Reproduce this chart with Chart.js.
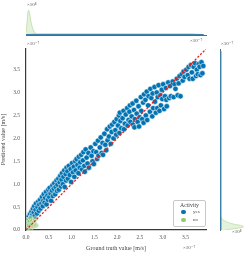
<!DOCTYPE html>
<html>
<head>
<meta charset="utf-8">
<script src="https://cdn.jsdelivr.net/npm/chart.js@4.4.1/dist/chart.umd.min.js"></script>
<style>
  body { margin: 0; width: 249px; height: 254px; background: #fff; position: relative; overflow: hidden; }
  canvas { position: absolute; left: 0; top: 0; }
  .exp { position: absolute; font: 5px 'Liberation Serif', 'DejaVu Serif', serif; color: #555; white-space: nowrap; }
  #legend { position: absolute; left: 173px; top: 200px; width: 33px; height: 27px; box-sizing: border-box;
            border: 0.8px solid #c8c8c8; border-radius: 2px; background: rgba(255,255,255,0.85);
            font-family: 'Liberation Serif', 'DejaVu Serif', serif; color: #444; }
  #legend .ttl { text-align: center; font-size: 5.8px; margin-top: 1px; }
  #legend .row { position: relative; height: 8px; font-size: 5px; }
  #legend .dot { position: absolute; left: 7px; top: 1.5px; width: 4.6px; height: 4.6px; border-radius: 50%; }
  #legend .lbl { position: absolute; left: 19px; top: 0.5px; }
</style>
</head>
<body>
<canvas id="topChart" width="249" height="254"></canvas>
<canvas id="rightChart" width="249" height="254"></canvas>
<canvas id="mainChart" width="249" height="254"></canvas>
<div class="exp" style="left:27px;top:2px;">×10⁸</div>
<div class="exp" style="left:190px;top:37px;">×10⁻⁷</div>
<div class="exp" style="left:27px;top:40px;">×10⁻⁷</div>
<div class="exp" style="left:221px;top:40px;">×10⁻⁷</div>
<div class="exp" style="left:183px;top:244px;">×10⁻⁷</div>
<div class="exp" style="left:232px;top:229px;">×10⁸</div>
<div id="legend"></div>
<script>
// values in units of 1e-7
var activity = ['yes', 'no'];
var axisTicks = [0.0, 0.5, 1.0, 1.5, 2.0, 2.5, 3.0, 3.5];
var axisMax = 3.95;
var diagLimits = [0, 3.95];

var yesX = [0.02,0.04,0.05,0.06,0.08,0.09,0.03,
  0.11,0.12,0.14,0.15,0.17,0.18,0.19,
  0.21,0.22,0.24,0.25,0.27,0.28,0.29,
  0.31,0.32,0.34,0.35,0.37,0.38,0.39,
  0.41,0.42,0.44,0.45,0.47,0.48,0.49,
  0.51,0.52,0.54,0.55,0.57,0.58,0.59,
  0.61,0.62,0.64,0.65,0.67,0.68,0.69,
  0.71,0.72,0.74,0.75,0.77,0.78,0.79,
  0.81,0.82,0.84,0.85,0.87,0.88,0.89,
  0.91,0.92,0.94,0.96,0.98,0.99,
  1.01,1.03,1.05,1.06,1.08,1.09,
  1.11,1.13,1.15,1.16,1.18,1.19,
  1.21,1.23,1.25,1.26,1.28,1.29,
  1.31,1.33,1.35,1.37,1.38,
  1.42,1.44,1.46,1.48,1.49,
  1.52,1.54,1.56,1.58,1.59,
  1.62,1.64,1.66,1.68,1.69,
  1.72,1.74,1.76,1.78,1.79,
  1.82,1.84,1.86,1.88,1.89,
  1.92,1.94,1.96,1.98,1.99,
  2.02,2.04,2.05,2.07,2.09,2.06,
  2.12,2.14,2.15,2.17,2.19,
  2.22,2.23,2.25,2.27,2.29,2.28,
  2.32,2.34,2.35,2.37,2.39,2.38,
  2.42,2.43,2.45,2.47,2.49,2.48,
  2.52,2.53,2.55,2.57,2.58,2.59,
  2.62,2.63,2.65,2.66,2.68,2.69,
  2.72,2.73,2.75,2.77,2.78,2.79,
  2.82,2.83,2.85,2.87,2.88,2.89,
  2.91,2.93,2.95,2.96,2.98,2.99,
  3.01,3.03,3.05,3.07,3.08,3.09,
  3.12,3.14,3.16,3.18,
  3.22,3.24,3.26,3.28,
  3.31,3.33,3.35,3.37,3.39,
  3.42,3.44,3.46,3.48,
  3.52,3.55,3.57,3.59,
  3.62,3.64,3.66,3.68,
  3.71,3.73,3.75,3.77,3.79,
  3.81,3.83,3.85,3.87,3.89];
var yesY = [0.18,0.25,0.12,0.30,0.22,0.35,0.08,
  0.28,0.40,0.33,0.46,0.38,0.52,0.30,
  0.44,0.58,0.36,0.50,0.62,0.42,0.55,
  0.66,0.47,0.58,0.72,0.52,0.64,0.78,
  0.60,0.70,0.83,0.56,0.75,0.66,0.88,
  0.72,0.92,0.80,0.64,0.86,0.97,0.74,
  0.90,1.02,0.78,0.94,1.08,0.85,0.99,
  1.12,0.88,1.04,1.18,0.95,1.10,1.24,
  1.00,1.16,1.30,0.94,1.22,1.08,1.36,
  1.28,1.12,1.40,1.20,1.33,1.05,
  1.46,1.26,1.38,1.16,1.50,1.30,
  1.55,1.42,1.24,1.60,1.36,1.48,
  1.64,1.32,1.52,1.70,1.40,1.27,
  1.76,1.58,1.45,1.68,1.36,
  1.80,1.62,1.50,1.72,1.44,
  1.88,1.70,1.55,1.95,1.62,
  1.80,2.02,1.68,1.90,1.64,
  2.10,1.86,1.74,2.20,1.96,
  2.04,2.26,1.88,2.14,2.30,
  2.00,2.36,2.18,2.08,2.42,
  2.28,2.50,2.12,2.38,2.22,2.56,
  2.44,2.60,2.20,2.32,2.52,
  2.66,2.28,2.40,2.58,2.36,2.72,
  2.48,2.76,2.30,2.62,2.42,2.24,
  2.82,2.54,2.36,2.70,2.46,2.26,
  2.90,2.60,2.42,2.78,2.34,2.96,
  2.84,2.50,3.02,2.40,2.72,2.92,
  2.58,3.08,2.88,2.48,2.98,2.66,
  3.12,2.80,2.56,3.00,2.66,2.90,
  3.16,2.60,2.94,2.72,3.06,2.86,
  3.18,2.64,2.92,3.10,2.84,2.70,
  3.22,2.88,3.14,2.92,
  3.24,2.90,3.18,3.08,
  3.30,2.94,3.20,3.36,2.92,
  3.40,3.26,3.46,3.34,
  3.50,3.38,3.56,3.30,
  3.60,3.44,3.30,3.56,
  3.64,3.36,3.50,3.40,3.62,
  3.56,3.38,3.66,3.42,3.58];

var noX = [0.01,0.02,0.03,0.04,0.05,0.06,0.08,0.09,0.10,0.12,0.14,0.16,0.18,0.20,0.22];
var noY = [0.02,0.08,0.15,0.05,0.22,0.10,0.18,0.03,0.26,0.12,0.20,0.08,0.16,0.24,0.10];

// marginal densities (units of 1e8)
var topGrid = [0,0.02,0.04,0.06,0.08,0.10,0.12,0.14,0.16,0.18,0.20,0.23,0.26,0.30];
var topNo   = [0.10,0.45,0.85,0.95,0.85,0.60,0.42,0.30,0.20,0.13,0.08,0.03,0.01,0];
var yesGrid = [0,0.3,0.6,0.9,1.2,1.5,1.8,2.1,2.4,2.7,3.0,3.3,3.6,3.9];
var topYes  = [0.012,0.016,0.018,0.017,0.016,0.017,0.018,0.019,0.020,0.021,0.020,0.018,0.016,0.012];
var rightGrid = [0,0.02,0.04,0.06,0.08,0.10,0.12,0.15,0.18,0.22,0.26,0.30,0.35];
var rightNo   = [0.20,0.45,0.70,0.88,0.90,0.80,0.60,0.40,0.25,0.12,0.06,0.02,0];
var rightYes  = [0.020,0.024,0.026,0.025,0.024,0.025,0.026,0.027,0.028,0.028,0.027,0.025,0.022,0.018];

var blue = '#0173b2';
var green = '#93c96f';
var fontFam = "'Liberation Serif', 'DejaVu Serif', serif";

function zip(xs, ys) {
    return xs.map(function(v, i) { return {x: v, y: ys[i]}; });
}

function setTicks(scale) {
    scale.ticks = axisTicks.map(function(v) { return {value: v}; });
}

Chart.defaults.animation = false;
Chart.defaults.font.family = fontFam;
Chart.defaults.color = '#555';

// main scatter
new Chart(document.getElementById('mainChart'), {
    type: 'scatter',
    data: {
        datasets: [{
            label: 'diag',
            data: zip(diagLimits, diagLimits),
            showLine: true,
            borderColor: '#e8211c',
            borderWidth: 1.3,
            borderDash: [2.2, 1.6],
            pointRadius: 0
        }, {
            label: activity[1],
            data: zip(noX, noY),
            backgroundColor: 'rgba(147,201,111,0.55)',
            borderColor: 'rgba(255,255,255,0.8)',
            borderWidth: 0.5,
            pointRadius: 2.6
        }, {
            label: activity[0],
            data: zip(yesX, yesY),
            backgroundColor: blue,
            borderColor: '#fff',
            borderWidth: 0.5,
            pointRadius: 2.7
        }]
    },
    options: {
        responsive: false,
        layout: { padding: { left: 0, top: 49, right: 43, bottom: 0 } },
        plugins: { legend: { display: false }, tooltip: { enabled: false } },
        scales: {
            x: {
                type: 'linear', min: 0, max: axisMax,
                afterBuildTicks: setTicks,
                afterFit: function(s) { s.height = 24; },
                grid: { display: false, drawTicks: false },
                border: { color: '#3a3a3a', width: 1.2 },
                ticks: { padding: 4, font: { size: 5.5 }, callback: function(v) { return v.toFixed(1); } },
                title: { display: true, text: 'Ground truth value [m/s]', font: { size: 6 }, color: '#444', padding: { top: 0, bottom: 2 } }
            },
            y: {
                type: 'linear', min: 0, max: axisMax,
                afterBuildTicks: setTicks,
                afterFit: function(s) { s.width = 26; },
                grid: { display: false, drawTicks: false },
                border: { color: '#3a3a3a', width: 1.2 },
                ticks: { padding: 6, font: { size: 5.5 }, callback: function(v) { return v.toFixed(1); } },
                title: { display: true, text: 'Predicted value [m/s]', font: { size: 6 }, color: '#444', padding: { top: 0, bottom: 3 } }
            }
        }
    }
});

// top marginal
new Chart(document.getElementById('topChart'), {
    type: 'scatter',
    data: {
        datasets: [{
            data: zip(yesGrid, topYes),
            showLine: true, fill: 'origin', pointRadius: 0,
            borderColor: '#3c82a8', borderWidth: 1.6,
            backgroundColor: 'rgba(1,115,178,0.25)'
        }, {
            data: zip(topGrid, topNo),
            showLine: true, fill: 'origin', pointRadius: 0, tension: 0.3,
            borderColor: 'rgba(147,201,111,0.55)', borderWidth: 0.8,
            backgroundColor: 'rgba(147,201,111,0.25)'
        }]
    },
    options: {
        responsive: false,
        layout: { padding: { left: 26, top: 9, right: 43, bottom: 0 } },
        plugins: { legend: { display: false }, tooltip: { enabled: false } },
        scales: {
            x: {
                type: 'linear', min: 0, max: axisMax,
                afterFit: function(s) { s.height = 219; },
                grid: { display: false, drawTicks: false },
                border: { color: '#666', width: 1 },
                ticks: { display: false }
            },
            y: { type: 'linear', min: 0, max: 1, display: false }
        }
    }
});

// right marginal
new Chart(document.getElementById('rightChart'), {
    type: 'scatter',
    data: {
        datasets: [{
            data: zip(rightYes, yesGrid),
            showLine: true, fill: 'origin', pointRadius: 0,
            borderColor: '#3c82a8', borderWidth: 1.6,
            backgroundColor: 'rgba(1,115,178,0.25)'
        }, {
            data: zip(rightNo, rightGrid),
            showLine: true, fill: 'origin', pointRadius: 0, tension: 0.3,
            borderColor: 'rgba(147,201,111,0.55)', borderWidth: 0.8,
            backgroundColor: 'rgba(147,201,111,0.25)'
        }]
    },
    options: {
        responsive: false,
        indexAxis: 'y',
        layout: { padding: { left: 0, top: 49, right: 3, bottom: 24 } },
        plugins: { legend: { display: false }, tooltip: { enabled: false } },
        scales: {
            y: {
                type: 'linear', min: 0, max: axisMax,
                afterFit: function(s) { s.width = 220; },
                grid: { display: false, drawTicks: false },
                border: { color: '#666', width: 1 },
                ticks: { display: false }
            },
            x: { type: 'linear', min: 0, max: 1, display: false }
        }
    }
});

// legend box
var legend = document.getElementById('legend');
var html = '<div class="ttl">Activity</div>';
var legendColors = [blue, green];
activity.forEach(function(name, i) {
    html += '<div class="row"><span class="dot" style="background:' + legendColors[i] + '"></span>' +
            '<span class="lbl">' + name + '</span></div>';
});
legend.innerHTML = html;
</script>
</body>
</html>
